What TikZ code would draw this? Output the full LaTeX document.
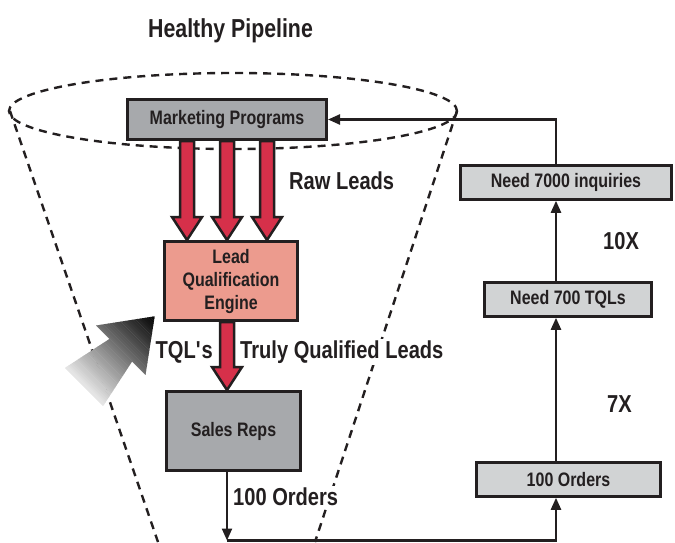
\documentclass[tikz,border=0pt]{standalone}
\usepackage{fontspec}
\setmainfont{Liberation Sans}[FakeStretch=0.82]
\usetikzlibrary{arrows.meta,calc}
\definecolor{ink}{HTML}{231F20}
\definecolor{progray}{HTML}{A7A9AC}
\definecolor{palegray}{HTML}{D1D3D4}
\definecolor{leadred}{HTML}{D6304A}
\definecolor{salmon}{HTML}{EC9B8E}
\pgfdeclarelayer{back}
\pgfdeclarelayer{mid}
\pgfsetlayers{back,mid,main}

\begin{document}
\begin{tikzpicture}[x=1pt,y=-1pt,line join=miter]
	\tikzset{
		every node/.style={text=ink,inner sep=0pt,align=center,font=\bfseries\fontsize{19.5}{23}\selectfont},
		darkbox/.style={draw=ink,line width=3pt,fill=progray},
		lightbox/.style={draw=ink,line width=2.5pt,fill=palegray,minimum height=34pt},
		bigtext/.style={fill=white,inner sep=1.5pt,font=\bfseries\fontsize{24.5}{28}\selectfont},
		conn/.style={draw=ink,line width=2.3pt,-{Triangle[length=12pt,width=10pt]}},
		funnel/.style={draw=ink,line width=2.4pt,dash pattern=on 8pt off 6pt},
		fatarrow/.style={draw=ink,line width=2.5pt,fill=leadred,
			to path={let \p1=(\tikztostart),\p2=(\tikztotarget) in
				({\x1-7pt},\y1) -- ({\x1-7pt},{\y2+23pt}) -- ({\x1-15pt},{\y2+23pt}) -- (\x1,\y2)
				-- ({\x1+15pt},{\y2+23pt}) -- ({\x1+7pt},{\y2+23pt}) -- ({\x1+7pt},\y1) -- cycle}}
	}
	\useasboundingbox (0,0) rectangle (675,542);
	% boxes
	\node[anchor=base west,font=\bfseries\fontsize{26}{30}\selectfont] (title) at (148,37) {Healthy Pipeline};
	\node[darkbox,minimum width=199pt,minimum height=40pt] (mkt) at (227,119.5) {Marketing Programs};
	\node[darkbox,fill=salmon,minimum width=133pt,minimum height=79pt] (lqe) at (231,281) {Lead\\Qualification\\Engine};
	\node[darkbox,minimum width=134pt,minimum height=79pt] (reps) at (233.5,431) {Sales Reps};
	\node[lightbox,minimum width=211pt] (inq) at (566,182.5) {Need 7000 inquiries};
	\node[lightbox,minimum width=167pt] (tql) at (568,299.5) {Need 700 TQLs};
	\node[lightbox,minimum width=184pt] (ord) at (568.5,479.5) {100 Orders};
	% labels
	\node[bigtext,anchor=base west] (raw) at (287.5,189) {Raw Leads};
	\node[bigtext,anchor=base east] (tqls) at (214.5,358) {TQL\textquotesingle s};
	\node[bigtext,anchor=base west] (truly) at (238.5,358) {Truly Qualified Leads};
	\node[bigtext,anchor=base west] (sold) at (231.5,505) {100 Orders};
	\node[bigtext,anchor=base west] (ten) at (601.5,249) {10X};
	\node[bigtext,anchor=base west] (seven) at (605.5,412) {7X};
	% loop back
	\coordinate (rx) at (556,0);
	\coordinate (low) at (227,540.5);
	\draw[conn] (reps.south -| low) -- (low);
	\draw[conn] (low) -| (ord.south -| rx);
	\draw[conn] (ord.north -| rx) -- (tql.south -| rx);
	\draw[conn] (tql.north -| rx) -- (inq.south -| rx);
	\draw[conn] (inq.north -| rx) |- (mkt.east);
	\begin{pgfonlayer}{mid}
		\foreach \dx in {-40,0,40}
			\draw[fatarrow] ([xshift=\dx pt]mkt.south) to ([xshift=\dx pt]mkt.south |- lqe.north);
		\draw[fatarrow] (mkt.south |- lqe.south) to (mkt.south |- reps.north);
		% grey pointer, faded in strips
		\begin{scope}[shift={(84,387)},rotate=45]
			\clip (0,-27) -- (52,-16) -- (52,-35) -- (100,0) -- (52,35) -- (52,16) -- (0,27) -- cycle;
			\foreach \i [evaluate=\i as \tone using int(10+1.8*\i)] in {0,...,49}
				\fill[black!\tone] (2*\i,-40) rectangle (2*\i+2.3,40);
		\end{scope}
	\end{pgfonlayer}
	\begin{pgfonlayer}{back}
		\draw[funnel] (233,111) ellipse [x radius=224,y radius=38];
		\draw[funnel] (10,111) -- (158,542);
		\draw[funnel] (457,111) -- (315,542);
	\end{pgfonlayer}
\end{tikzpicture}
\end{document}
